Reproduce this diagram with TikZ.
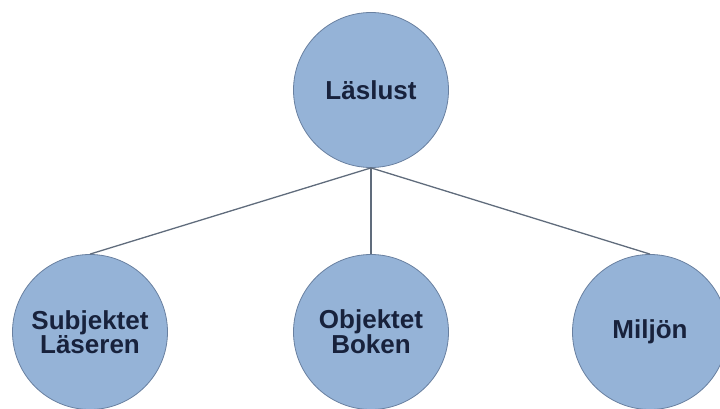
\documentclass[tikz,border=0pt]{standalone}
\usepackage{fontspec}
\setmainfont{Liberation Sans}
\usepackage{tikz}
\usetikzlibrary{%
    positioning%
}
\definecolor{bubblefill}{RGB}{149,179,215}
\definecolor{bubbleline}{RGB}{105,128,160}
\definecolor{bubbletext}{RGB}{24,34,60}
\definecolor{linkgray}{RGB}{96,108,124}

\begin{document}
\begin{tikzpicture}[x=1pt, y=-1pt,
		bubble/.style={circle, draw=bubbleline, line width=0.8pt, fill=bubblefill,
			minimum size=155pt, inner sep=0pt, align=center,
			text=bubbletext, font=\bfseries\fontsize{26}{21}\selectfont},
		link/.style={draw=linkgray, line width=1.3pt}]
				\useasboundingbox (0,0) rectangle (720,409);

				\node[bubble] (laslust) at (371,90) {Läslust};
				\node[bubble] (subjekt) at (90,332) {Subjektet\\Läseren};
				\node[bubble] (objekt) at (371,332) {Objektet\\Boken};
				\node[bubble] (miljo) at (650,332) {Miljön};

				% kanter fran toppen
				\draw[link] (laslust.south) -- (subjekt.north);
				\draw[link] (laslust.south) -- (objekt.north);
				\draw[link] (laslust.south) -- (miljo.north);
			\end{tikzpicture}
\end{document}
